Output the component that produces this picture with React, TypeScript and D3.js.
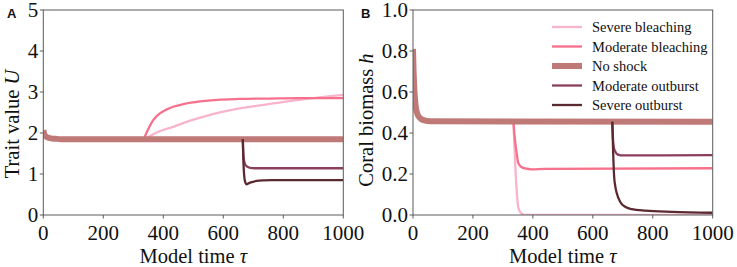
import React from "react";
import * as d3 from "d3";

// ---------- data ----------
const seriesNames = ["Severe bleaching", "Moderate bleaching", "No shock", "Moderate outburst", "Severe outburst"];
const seriesColors = ["#f8b4cb", "#f7708c", "#bf7a78", "#8c3e5e", "#5b2a31"];
const seriesWidths = [2.3, 2.3, 6, 2.3, 2.3];

const xTicks = [0, 200, 400, 600, 800, 1000];
const uTicks = [0, 1, 2, 3, 4, 5];
const hTicks = [0, 0.2, 0.4, 0.6, 0.8, 1.0];

// Panel A: trait value U
const sevBleachUT = [340, 356, 380, 433, 490, 544, 600, 655, 710, 766, 820, 877, 935, 1000];
const sevBleachU = [1.85, 1.93, 2.02, 2.15, 2.3, 2.42, 2.52, 2.6, 2.66, 2.72, 2.78, 2.83, 2.88, 2.93];
const modBleachUT = [335, 345, 367, 389, 410, 433, 470, 522, 580, 655, 750, 850, 1000];
const modBleachU = [1.85, 2.02, 2.32, 2.48, 2.57, 2.64, 2.71, 2.77, 2.81, 2.83, 2.84, 2.85, 2.85];
const noShockUT = [0, 3, 8, 15, 25, 40, 60, 100, 1000];
const noShockU = [2.07, 1.98, 1.92, 1.89, 1.87, 1.86, 1.85, 1.85, 1.85];
const modOutUT = [665, 667, 670, 675, 682, 690, 705, 1000];
const modOutU = [1.85, 1.45, 1.3, 1.21, 1.17, 1.15, 1.14, 1.14];
const sevOutUT = [665, 667, 670, 674, 678, 684, 695, 711, 735, 760, 800, 1000];
const sevOutU = [1.85, 1.3, 0.93, 0.78, 0.75, 0.77, 0.8, 0.83, 0.845, 0.85, 0.85, 0.85];

// Panel B: coral biomass h
const sevBleachHT = [335, 338, 340, 343, 346, 351, 356, 362, 374, 1000];
const sevBleachH = [0.455, 0.35, 0.28, 0.19, 0.12, 0.04, 0.018, 0.008, 0.001, 0];
const modBleachHT = [335, 340, 346, 351, 360, 374, 396, 441, 1000];
const modBleachH = [0.455, 0.37, 0.3, 0.255, 0.236, 0.227, 0.223, 0.225, 0.228];
const noShockHT = [0, 2, 5, 9, 14, 22, 35, 60, 1000];
const noShockH = [0.81, 0.7, 0.6, 0.53, 0.495, 0.475, 0.463, 0.457, 0.455];
const modOutHT = [665, 667, 670, 675, 680, 690, 697, 1000];
const modOutH = [0.455, 0.38, 0.33, 0.31, 0.298, 0.292, 0.291, 0.292];
const sevOutHT = [665, 668, 671, 675, 680, 691, 708, 730, 775, 864, 1000];
const sevOutH = [0.455, 0.3, 0.19, 0.14, 0.106, 0.065, 0.04, 0.029, 0.021, 0.015, 0.011];

const panelA = [
  [sevBleachUT, sevBleachU],
  [modBleachUT, modBleachU],
  [noShockUT, noShockU],
  [modOutUT, modOutU],
  [sevOutUT, sevOutU],
];
const panelB = [
  [sevBleachHT, sevBleachH],
  [modBleachHT, modBleachH],
  [noShockHT, noShockH],
  [modOutHT, modOutH],
  [sevOutHT, sevOutH],
];

const W = 737;
const H = 267;
const serif = "Liberation Serif, Times New Roman, serif";
const sans = "Liberation Sans, Arial, sans-serif";
const frameColor = "#5a5a5a";
const fs = 21;
const labelFs = 20.5;

type PanelProps = {
  id: string;
  x0: number;
  x1: number;
  yMax: number;
  ticks: number[];
  fmt: (v: number) => string;
  data: number[][][];
  letter: string;
  letterX: number;
  ylabel: React.ReactNode;
  ylabelX: number;
  ylabelY: number;
  legend?: boolean;
};

function Panel(p: PanelProps) {
  const top = 10;
  const bottom = 215;
  const x = d3.scaleLinear().domain([0, 1000]).range([p.x0, p.x1]);
  const y = d3.scaleLinear().domain([0, p.yMax]).range([bottom, top]);
  const line = d3
    .line<[number, number]>()
    .x((d) => x(d[0]))
    .y((d) => y(d[1]))
    .curve(d3.curveMonotoneX);
  const legendX = 552;
  const legendY0 = 27;
  const legendDy = 19.5;
  return (
    <g>
      <defs>
        <clipPath id={"clip" + p.id}>
          <rect x={p.x0} y={top} width={p.x1 - p.x0} height={bottom - top} />
        </clipPath>
      </defs>
      <g clipPath={`url(#clip${p.id})`}>
        {p.data.map(([ts, vs], i) => (
          <path
            key={i}
            d={line(ts.map((t, j) => [t, vs[j]] as [number, number])) || ""}
            fill="none"
            stroke={seriesColors[i]}
            strokeWidth={seriesWidths[i]}
            strokeLinejoin="round"
          />
        ))}
      </g>
      <rect x={p.x0} y={top} width={p.x1 - p.x0} height={bottom - top} fill="none" stroke={frameColor} strokeWidth={1} />
      {xTicks.map((t) => (
        <g key={"x" + t}>
          <line x1={x(t)} x2={x(t)} y1={bottom} y2={bottom + 3.5} stroke={frameColor} />
          <text x={x(t)} y={bottom + 24.5} textAnchor="middle" fontFamily={serif} fontSize={fs} fill="#111">
            {t}
          </text>
        </g>
      ))}
      {p.ticks.map((t) => (
        <g key={"y" + t}>
          <line x1={p.x0 - 3.5} x2={p.x0} y1={y(t)} y2={y(t)} stroke={frameColor} />
          <text x={p.x0 - 5} y={y(t) + 7} textAnchor="end" fontFamily={serif} fontSize={fs} fill="#111">
            {p.fmt(t)}
          </text>
        </g>
      ))}
      <text x={(p.x0 + p.x1) / 2} y={262.5} textAnchor="middle" fontFamily={serif} fontSize={labelFs} fill="#111">
        Model time <tspan fontStyle="italic">τ</tspan>
      </text>
      <text
        transform={`translate(${p.ylabelX},${p.ylabelY}) rotate(-90)`}
        textAnchor="middle"
        fontFamily={serif}
        fontSize={labelFs}
        fill="#111"
      >
        {p.ylabel}
      </text>
      <text x={p.letterX} y={18} fontFamily={sans} fontWeight="bold" fontSize={13} fill="#111">
        {p.letter}
      </text>
      {p.legend &&
        seriesNames.map((name, i) => (
          <g key={name}>
            <line
              x1={legendX}
              x2={legendX + 30}
              y1={legendY0 + i * legendDy}
              y2={legendY0 + i * legendDy}
              stroke={seriesColors[i]}
              strokeWidth={seriesWidths[i]}
            />
            <text
              x={legendX + 40}
              y={legendY0 + i * legendDy + 5}
              fontFamily={serif}
              fontSize={14.5}
              fill="#111"
            >
              {name}
            </text>
          </g>
        ))}
    </g>
  );
}

export default function App() {
  return (
    <svg
      width={W}
      height={H}
      viewBox={`0 0 ${W} ${H}`}
      style={{ position: "absolute", left: 0, top: 0, background: "#fff" }}
    >
      <rect width={W} height={H} fill="#fff" />
      <Panel
        id="A"
        x0={43.3}
        x1={343.3}
        yMax={5}
        ticks={uTicks}
        fmt={(v) => String(v)}
        data={panelA}
        letter="A"
        letterX={7}
        ylabel={
          <>
            Trait value <tspan fontStyle="italic">U</tspan>
          </>
        }
        ylabelX={19}
        ylabelY={124}
      />
      <Panel
        id="B"
        x0={413}
        x1={712.7}
        yMax={1}
        ticks={hTicks}
        fmt={(v) => v.toFixed(1)}
        data={panelB}
        letter="B"
        letterX={361}
        ylabel={
          <>
            Coral biomass <tspan fontStyle="italic">h</tspan>
          </>
        }
        ylabelX={373}
        ylabelY={120}
        legend
      />
    </svg>
  );
}
